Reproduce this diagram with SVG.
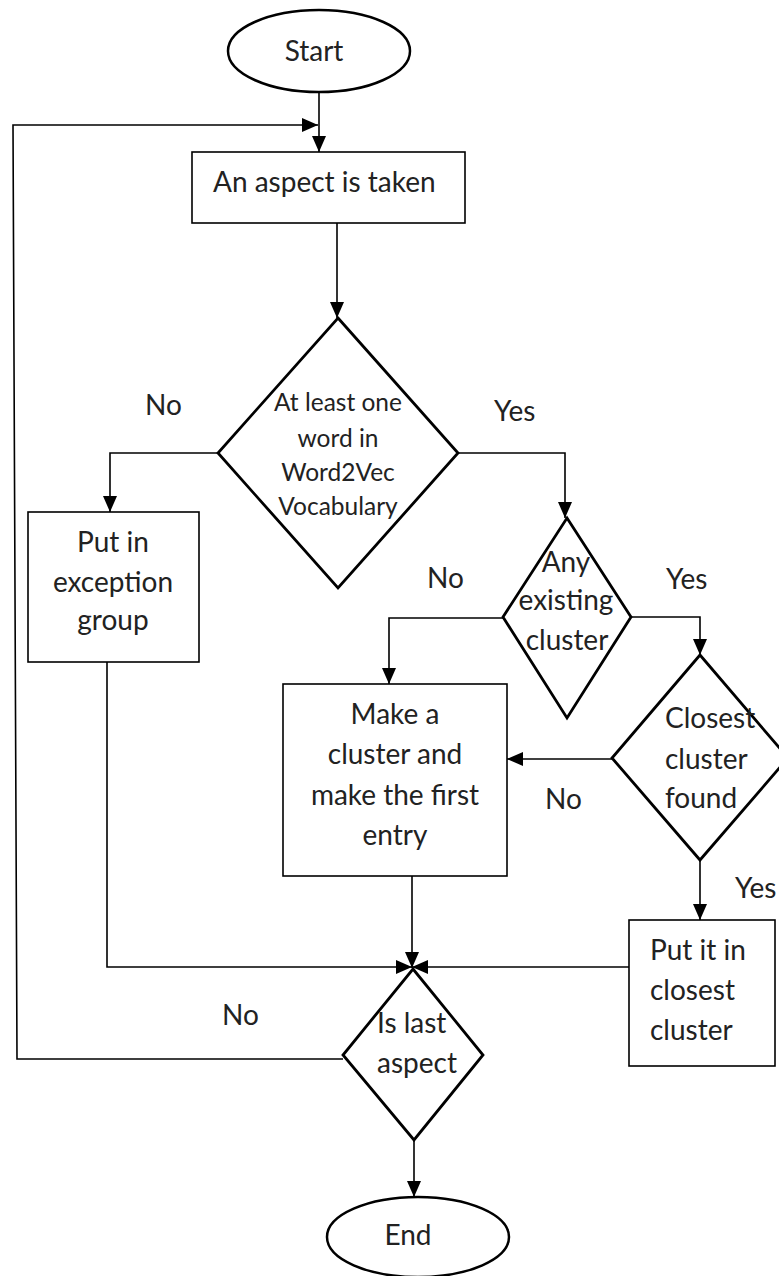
<svg xmlns="http://www.w3.org/2000/svg" width="779" height="1276" viewBox="0 0 779 1276">
<style>
text{font-family:Lato,"Liberation Sans",sans-serif;font-size:28px;fill:#222}
.m{text-anchor:middle}
.sm{font-size:24.5px}
.term{fill:#fff;stroke:#000;stroke-width:2.5}
.box{fill:#fff;stroke:#000;stroke-width:1.6}
.dec{fill:#fff;stroke:#000;stroke-width:2.8}
.con{fill:none;stroke:#000;stroke-width:1.6}
</style>
<defs>
<marker id="arr" markerUnits="userSpaceOnUse" markerWidth="16" markerHeight="14" viewBox="0 0 16 14" refX="16" refY="7" orient="auto">
<path d="M0,0 L16,7 L0,14 z" fill="#000"/>
</marker>
</defs>
<rect width="779" height="1276" fill="#fff"/>
<g id="connectors">
<path class="con" d="M319,92 V152" marker-end="url(#arr)"/>
<path class="con" d="M343,1059 H17 L13,125 H318" marker-end="url(#arr)"/>
<path class="con" d="M337,223 V318" marker-end="url(#arr)"/>
<path class="con" d="M458,453 H565 V518" marker-end="url(#arr)"/>
<path class="con" d="M218,453 H110 V512" marker-end="url(#arr)"/>
<path class="con" d="M631,617 H700 V655" marker-end="url(#arr)"/>
<path class="con" d="M503,618 H389 V684" marker-end="url(#arr)"/>
<path class="con" d="M612,759 H507" marker-end="url(#arr)"/>
<path class="con" d="M700,860 V920" marker-end="url(#arr)"/>
<path class="con" d="M412,876 V968" marker-end="url(#arr)"/>
<path class="con" d="M107,662 V967 H412" marker-end="url(#arr)"/>
<path class="con" d="M629,967 H412" marker-end="url(#arr)"/>
<path class="con" d="M414,1140 V1197" marker-end="url(#arr)"/>
<text x="145" y="415">No</text>
<text x="494" y="421">Yes</text>
<text x="427" y="588">No</text>
<text x="666" y="589">Yes</text>
<text x="545" y="809">No</text>
<text x="735" y="898">Yes</text>
<text x="222" y="1025">No</text>
</g>
<g id="start">
<ellipse class="term" cx="319" cy="51" rx="91" ry="41"/>
<text class="m" x="314" y="61">Start</text>
</g>
<g id="take-aspect">
<rect class="box" x="192" y="152" width="273" height="71"/>
<text x="213" y="192">An aspect is taken</text>
</g>
<g id="in-vocab">
<polygon class="dec" points="338,318 458,453 338,588 218,453"/>
<text class="m sm" x="338" y="411">At least one</text>
<text class="m sm" x="338" y="447">word in</text>
<text class="m sm" x="338" y="481">Word2Vec</text>
<text class="m sm" x="338" y="515">Vocabulary</text>
</g>
<g id="exception">
<rect class="box" x="28" y="512" width="171" height="150"/>
<text class="m" x="113" y="552">Put in</text>
<text class="m" x="113" y="592">exception</text>
<text class="m" x="113" y="630">group</text>
</g>
<g id="any-cluster">
<polygon class="dec" points="567,518 631,617 567,718 503,617"/>
<text class="m" x="566" y="572">Any</text>
<text class="m" x="566" y="610">existing</text>
<text class="m" x="567" y="650">cluster</text>
</g>
<g id="make-cluster">
<rect class="box" x="283" y="684" width="224" height="192"/>
<text class="m" x="395" y="724">Make a</text>
<text class="m" x="395" y="764">cluster and</text>
<text class="m" x="395" y="805">make the first</text>
<text class="m" x="395" y="845">entry</text>
</g>
<g id="closest-found">
<polygon class="dec" points="700,655 788,758 700,860 612,758"/>
<text x="665" y="728">Closest</text>
<text x="665" y="769">cluster</text>
<text x="665" y="808">found</text>
</g>
<g id="put-closest">
<rect class="box" x="629" y="920" width="146" height="146"/>
<text x="650" y="960">Put it in</text>
<text x="650" y="1000">closest</text>
<text x="650" y="1040">cluster</text>
</g>
<g id="is-last">
<polygon class="dec" points="413,969 483,1055 414,1140 343,1055"/>
<text x="377" y="1033">Is last</text>
<text x="377" y="1073">aspect</text>
</g>
<g id="end">
<ellipse class="term" cx="418" cy="1237" rx="91" ry="40"/>
<text class="m" x="408" y="1245">End</text>
</g>
</svg>
